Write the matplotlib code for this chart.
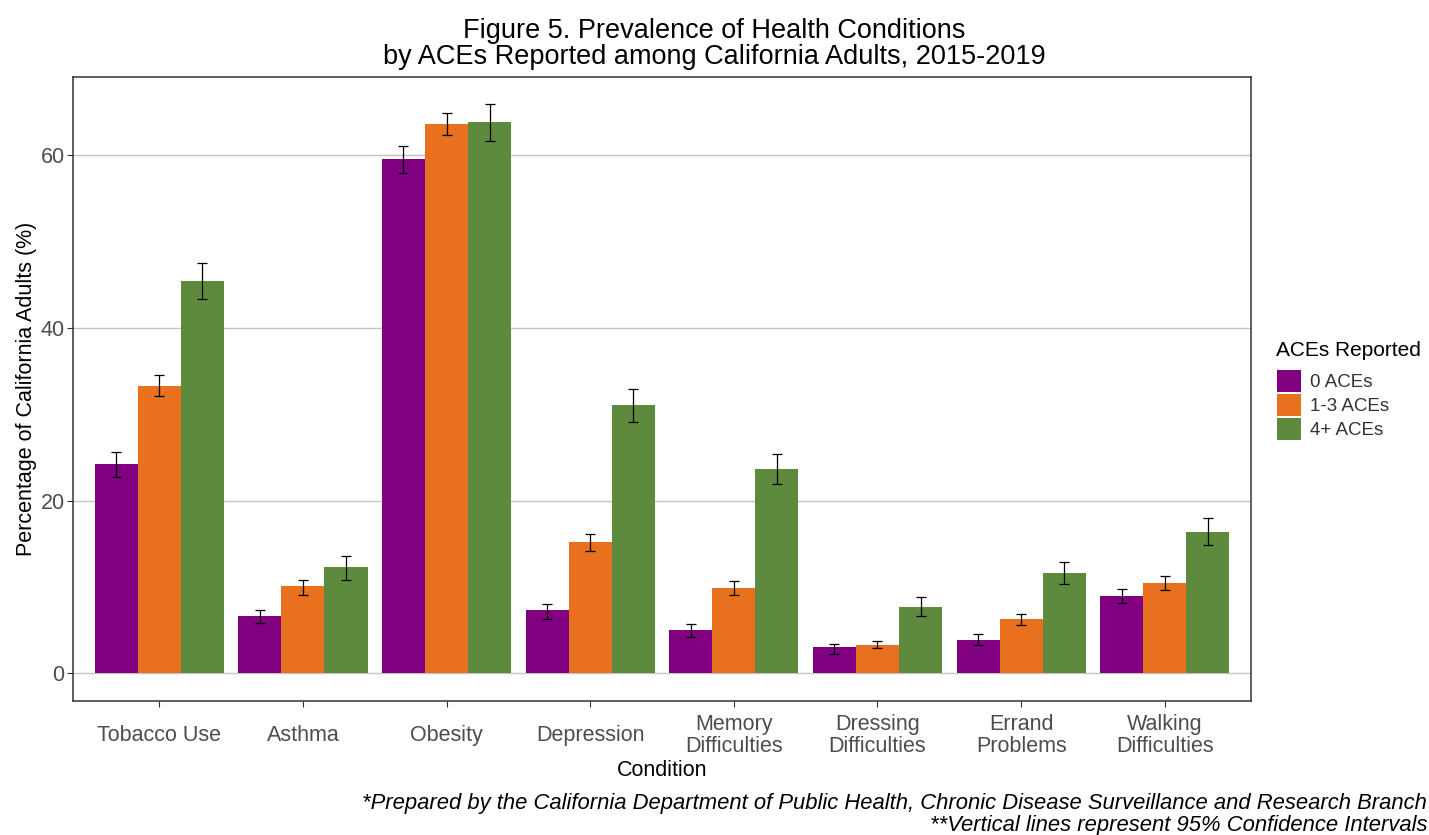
import matplotlib
matplotlib.use("Agg")
import matplotlib.pyplot as plt
import numpy as np
from matplotlib.patches import Patch

plt.rcParams['font.family'] = ['Liberation Sans', 'DejaVu Sans']

conditions = ["Tobacco Use", "Asthma", "Obesity", "Depression", "Memory\nDifficulties",
              "Dressing\nDifficulties", "Errand\nProblems", "Walking\nDifficulties"]
groups = ["0 ACEs", "1-3 ACEs", "4+ ACEs"]

ace0 = [24.2, 6.6, 59.6, 7.3, 5.0, 3.0, 3.9, 9.0]
ace0_lo = [22.7, 5.8, 58.0, 6.3, 4.2, 2.2, 3.25, 8.1]
ace0_hi = [25.6, 7.3, 61.1, 8.0, 5.7, 3.4, 4.6, 9.8]

ace13 = [33.3, 10.1, 63.6, 15.2, 9.9, 3.3, 6.3, 10.5]
ace13_lo = [32.1, 9.1, 62.3, 14.2, 9.1, 2.9, 5.6, 9.6]
ace13_hi = [34.6, 10.8, 64.9, 16.1, 10.7, 3.8, 6.9, 11.3]

ace4 = [45.4, 12.3, 63.9, 31.1, 23.7, 7.7, 11.6, 16.4]
ace4_lo = [43.3, 10.8, 61.7, 29.1, 21.9, 6.65, 10.3, 14.9]
ace4_hi = [47.5, 13.6, 65.9, 32.9, 25.4, 8.9, 12.9, 18.0]

colors = ["#800080", "#E8701F", "#5D8A3C"]

fig = plt.figure(figsize=(14.29, 8.35), dpi=100)
ax = fig.add_axes([73/1429, 1 - 701/835, (1251 - 73)/1429, (701 - 76.7)/835])

x = np.arange(len(conditions))
w = 0.3
series = [(ace0, ace0_lo, ace0_hi), (ace13, ace13_lo, ace13_hi), (ace4, ace4_lo, ace4_hi)]
for i, (vals, lo, hi) in enumerate(series):
    pos = x + (i - 1) * w
    vals = np.array(vals); lo = np.array(lo); hi = np.array(hi)
    ax.bar(pos, vals, width=w, color=colors[i], zorder=2, label=groups[i])
    ax.errorbar(pos, vals, yerr=[vals - lo, hi - vals], fmt='none', ecolor='black',
                elinewidth=0.9, capsize=3.8, capthick=0.9, zorder=3)

ax.set_xlim(-0.6, 7.6)
ax.set_ylim(-3.2, 69.1)
ax.set_yticks([0, 20, 40, 60])
ax.set_xticks(x)
ax.set_xticklabels(conditions)
ax.yaxis.grid(True, color='#c4c4c4', linewidth=1.0, zorder=0)
ax.xaxis.grid(False)
ax.set_axisbelow(True)
for s in ax.spines.values():
    s.set_color('#333333')
    s.set_linewidth(1.1)
ax.tick_params(axis='both', colors='#333333', labelcolor='#4d4d4d', labelsize=15.5,
               length=4, width=0.8)
ax.tick_params(axis='y', labelsize=15.5, pad=2)
ax.tick_params(axis='x', pad=21)
for lab in ax.get_xticklabels():
    lab.set_va('center')
    lab.set_linespacing(1.05)

ax.set_xlabel("Condition", fontsize=15.5, color='black', va='center')
ax.xaxis.set_label_coords(0.5, (701 - 771) / 624.3)
ax.set_ylabel("Percentage of California Adults (%)", fontsize=15.5, color='black', va='center')
ax.yaxis.set_label_coords((27 - 73) / 1178, 0.5)

fig.text(0.5, 1 - 44/835, "Figure 5. Prevalence of Health Conditions\nby ACEs Reported among California Adults, 2015-2019",
         ha='center', va='center', fontsize=19.5, linespacing=1.0)

handles = [Patch(facecolor=c, edgecolor='none') for c in colors]
leg = fig.legend(handles, groups, title="ACEs Reported", loc='upper left',
                 bbox_to_anchor=(1269/1429, 1 - 334/835), frameon=False,
                 fontsize=13.5, title_fontsize=15, handlelength=1.3, handleheight=1.4,
                 handletextpad=0.5, labelspacing=0.12, borderaxespad=0)
leg._legend_box.align = "left"
leg._legend_box.sep = 7
for t in leg.get_texts():
    t.set_color('#333333')

fig.text(1427/1429, 1 - 803/835,
         "*Prepared by the California Department of Public Health, Chronic Disease Surveillance and Research Branch",
         ha='right', va='center', fontsize=15.8, style='italic')
fig.text(1427/1429, 1 - 826/835,
         "**Vertical lines represent 95% Confidence Intervals",
         ha='right', va='center', fontsize=15.8, style='italic')

fig.savefig("out.png", dpi=100, facecolor='white')
